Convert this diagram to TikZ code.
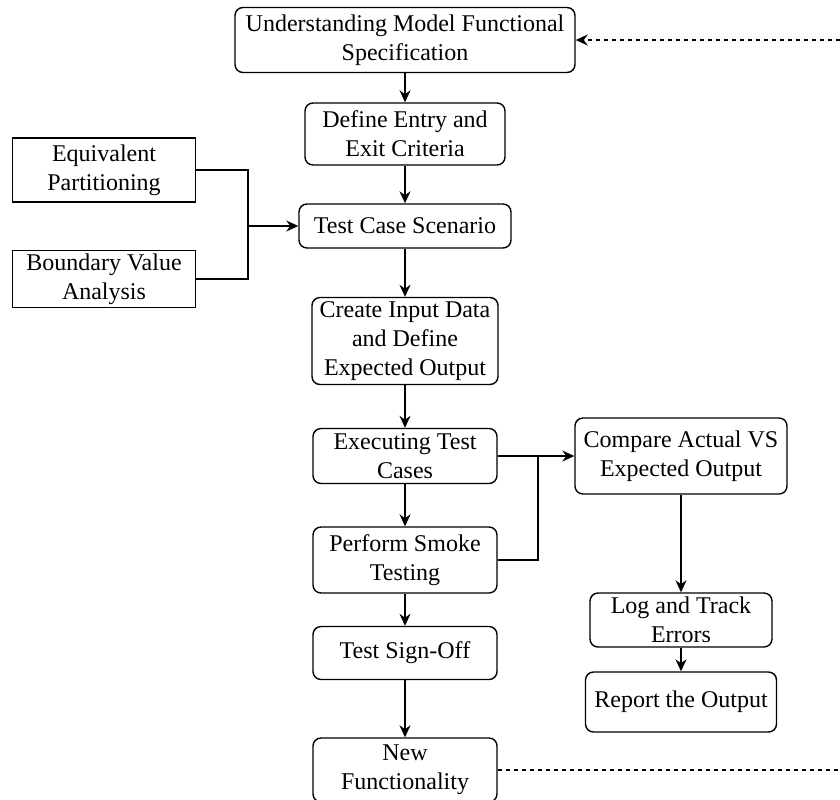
\documentclass[tikz,border=0pt]{standalone}
\usepackage{fontspec}
\setmainfont{Liberation Serif}
\usetikzlibrary{arrows.meta}

\begin{document}
\begin{tikzpicture}[x=0.5pt,y=-0.5pt,
  every node/.style={font=\fontsize{12pt}{14.5pt}\selectfont},
  stepbox/.style={draw, rounded corners=4pt, align=center, inner sep=1pt, line width=0.7pt},
  sidebox/.style={draw, align=center, inner sep=1pt, line width=0.7pt},
  link/.style={line width=0.7pt},
  flow/.style={link, -{Stealth[length=6pt,width=5.5pt]}},
  loopback/.style={line width=0.8pt, dash pattern=on 2pt off 2pt}]
\useasboundingbox (0,0) rectangle (840,799);
\clip (0,0) rectangle (840,799);
% main column
\node[stepbox, minimum width=170pt, minimum height=32.5pt] (spec) at (405,40) {Understanding Model Functional\\Specification};
\node[stepbox, minimum width=100pt, minimum height=31pt] (entry) at (405,134) {Define Entry and\\Exit Criteria};
\node[stepbox, minimum width=106pt, minimum height=22pt] (scenario) at (405,226) {Test Case Scenario};
\node[stepbox, minimum width=93pt, minimum height=43.5pt] (input) at (405,341) {Create Input Data\\and Define\\Expected Output};
\node[stepbox, minimum width=92pt, minimum height=27.5pt] (exec) at (405,456) {Executing Test\\Cases};
\node[stepbox, minimum width=92pt, minimum height=33pt] (smoke) at (405,560) {Perform Smoke\\Testing};
\node[stepbox, minimum width=92pt, minimum height=26.5pt] (signoff) at (405,653) {Test Sign-Off};
\node[stepbox, minimum width=92pt, minimum height=32pt] (newfunc) at (405,770) {New\\Functionality};
% techniques
\node[sidebox, minimum width=91.5pt, minimum height=32pt] (equiv) at (104,170) {Equivalent\\Partitioning};
\node[sidebox, minimum width=91.5pt, minimum height=28.5pt] (boundary) at (104,279) {Boundary Value\\Analysis};
% error branch
\node[stepbox, minimum width=106pt, minimum height=38pt] (compare) at (681,456) {Compare Actual VS\\Expected Output};
\node[stepbox, minimum width=91pt, minimum height=27pt] (logerr) at (681,620) {Log and Track\\Errors};
\node[stepbox, minimum width=95.5pt, minimum height=30pt] (report) at (681,702) {Report the Output};
\coordinate (joinL) at (248,226);
\coordinate (joinR) at (538,456);
\coordinate (loopR) at (880,770);
\draw[flow] (spec) -- (entry);
\draw[flow] (entry) -- (scenario);
\draw[flow] (scenario) -- (input);
\draw[flow] (input) -- (exec);
\draw[flow] (exec) -- (smoke);
\draw[flow] (smoke) -- (signoff);
\draw[flow] (signoff) -- (newfunc);
\draw[link] (equiv.east) -| (joinL);
\draw[link] (boundary.east) -| (joinL);
\draw[flow] (joinL) -- (scenario);
\draw[link] (exec.east) -- (joinR);
\draw[link] (smoke.east) -| (joinR);
\draw[flow] (joinR) -- (compare);
\draw[flow] (compare) -- (logerr);
\draw[flow] (logerr) -- (report);
\draw[loopback, -{Stealth[length=6pt,width=5.5pt]}] (newfunc.east) -- (loopR) |- (spec.east);
\end{tikzpicture}
\end{document}
